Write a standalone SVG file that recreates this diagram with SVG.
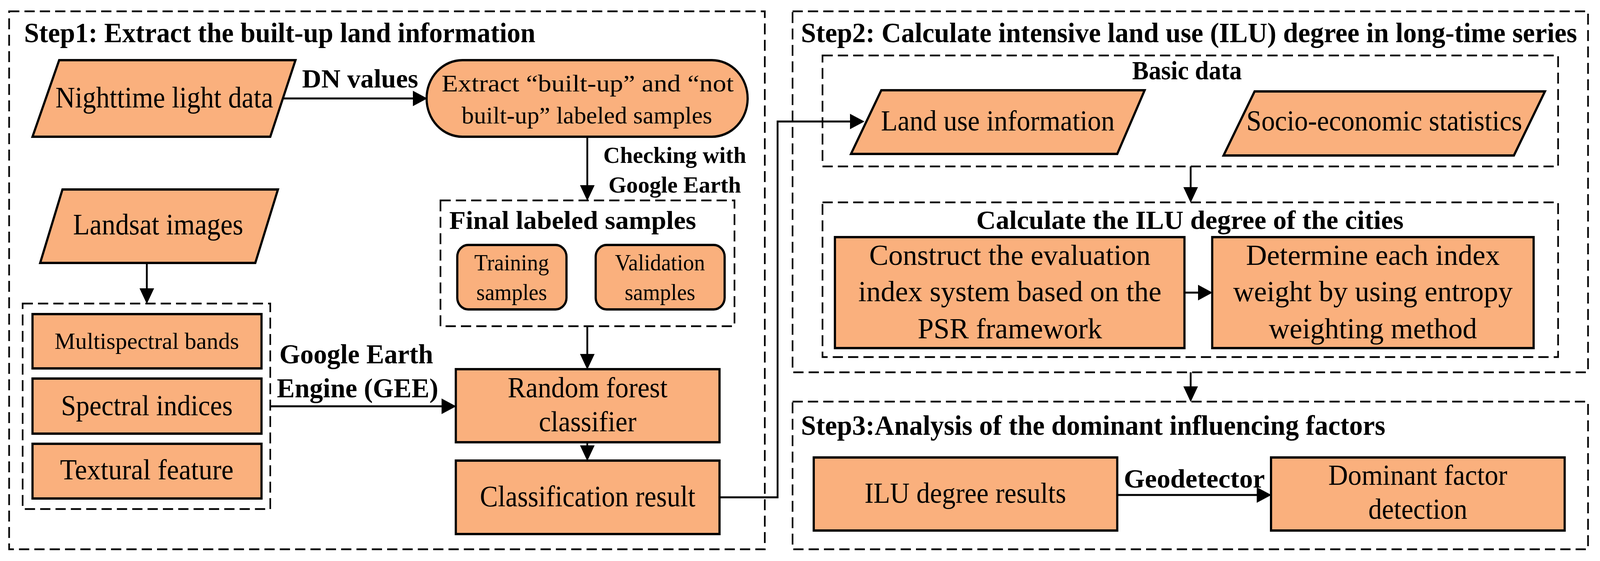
<svg xmlns="http://www.w3.org/2000/svg" width="4377" height="1436" viewBox="0 0 4377 1436">
<defs>
<marker id="ah" markerWidth="8" markerHeight="8" refX="7" refY="4" orient="auto" markerUnits="strokeWidth"><path d="M0,0 L8,4 L0,8 z" fill="#000"/></marker>
<style>
.n{fill:#FAB07D;stroke:#000;stroke-width:6}
.d{fill:none;stroke:#000;stroke-width:4.5;stroke-dasharray:28 14}
.c{fill:none;stroke:#000;stroke-width:5;marker-end:url(#ah)}
text{font-family:"Liberation Serif","Times New Roman",serif;fill:#000}
.b{font-weight:bold}
.m{text-anchor:middle}
</style>
</defs>
<rect width="4377" height="1436" fill="#fff"/>
<g transform="scale(0.935,1)">
<g id="step1">
<rect class="d" x="25" y="29" width="2069" height="1377"/>
<text class="b" x="66" y="108" font-size="72" textLength="1400" lengthAdjust="spacingAndGlyphs">Step1: Extract the built-up land information</text>
</g>
<g id="nighttime"><polygon class="n" points="162,154 809,154 740,350 89,350"/><text class="m" x="450" y="275" font-size="76" textLength="596" lengthAdjust="spacingAndGlyphs">Nighttime light data</text></g>
<g id="extract"><rect class="n" x="1168" y="154" width="879" height="196" rx="98"/>
<text x="1209" y="234" font-size="62" textLength="800" lengthAdjust="spacingAndGlyphs">Extract “built-up”  and  “not</text>
<text x="1264" y="316" font-size="62" textLength="686" lengthAdjust="spacingAndGlyphs">built-up”  labeled samples</text></g>
<g id="final"><rect class="d" x="1206" y="513" width="805" height="322"/>
<text class="b" x="1230" y="586" font-size="66" textLength="676" lengthAdjust="spacingAndGlyphs">Final labeled samples</text></g>
<g id="training"><rect class="n" x="1252" y="627" width="299" height="165" rx="30"/><text class="m" x="1401" y="692" font-size="60">Training</text><text class="m" x="1401" y="768" font-size="60">samples</text></g>
<g id="validation"><rect class="n" x="1631" y="627" width="353" height="165" rx="30"/><text class="m" x="1807" y="692" font-size="60">Validation</text><text class="m" x="1807" y="768" font-size="60">samples</text></g>
<g id="rf"><rect class="n" x="1248" y="945" width="722" height="187"/><text class="m" x="1609" y="1017" font-size="74">Random forest</text><text class="m" x="1609" y="1104" font-size="74">classifier</text></g>
<g id="classres"><rect class="n" x="1248" y="1179" width="722" height="188"/><text class="m" x="1609" y="1296" font-size="76" textLength="590" lengthAdjust="spacingAndGlyphs">Classification result</text></g>
<g id="landsat"><polygon class="n" points="171,485 761,485 699,673 110,673"/><text class="m" x="433" y="600" font-size="76" textLength="466" lengthAdjust="spacingAndGlyphs">Landsat images</text></g>
<g id="features"><rect class="d" x="62" y="777" width="678" height="526"/></g>
<g id="multi"><rect class="n" x="89" y="804" width="627" height="139"/><text class="m" x="402" y="893" font-size="60" textLength="505" lengthAdjust="spacingAndGlyphs">Multispectral bands</text></g>
<g id="spectral"><rect class="n" x="89" y="969" width="627" height="141"/><text class="m" x="402" y="1063" font-size="74" textLength="470" lengthAdjust="spacingAndGlyphs">Spectral indices</text></g>
<g id="textural"><rect class="n" x="89" y="1136" width="627" height="140"/><text class="m" x="402" y="1227" font-size="74" textLength="475" lengthAdjust="spacingAndGlyphs">Textural feature</text></g>
<g id="step2">
<rect class="d" x="2170" y="29" width="2178" height="924"/>
<text class="b" x="2193" y="108" font-size="72" textLength="2125" lengthAdjust="spacingAndGlyphs">Step2: Calculate intensive land use (ILU) degree in long-time series</text>
</g>
<g id="basic"><rect class="d" x="2252" y="142" width="2014" height="284"/><text class="b m" x="3250" y="203" font-size="68">Basic data</text></g>
<g id="landuse"><polygon class="n" points="2413,231 3134,231 3059,394 2330,394"/><text class="m" x="2732" y="334" font-size="74" textLength="640" lengthAdjust="spacingAndGlyphs">Land use information</text></g>
<g id="socio"><polygon class="n" points="3435,234 4230,234 4145,398 3350,398"/><text class="m" x="3790" y="334" font-size="74" textLength="755" lengthAdjust="spacingAndGlyphs">Socio-economic statistics</text></g>
<g id="calc"><rect class="d" x="2252" y="518" width="2014" height="396"/><text class="b m" x="3258" y="586" font-size="68" textLength="1170" lengthAdjust="spacingAndGlyphs">Calculate the ILU degree of the cities</text></g>
<g id="construct"><rect class="n" x="2286" y="607" width="957" height="284"/>
<text class="m" x="2765" y="678" font-size="74" textLength="770" lengthAdjust="spacingAndGlyphs">Construct the evaluation</text>
<text class="m" x="2765" y="771" font-size="74" textLength="830" lengthAdjust="spacingAndGlyphs">index system based on the</text>
<text class="m" x="2765" y="866" font-size="74" textLength="505" lengthAdjust="spacingAndGlyphs">PSR framework</text></g>
<g id="determine"><rect class="n" x="3319" y="607" width="880" height="284"/>
<text class="m" x="3759" y="678" font-size="74" textLength="695" lengthAdjust="spacingAndGlyphs">Determine each index</text>
<text class="m" x="3759" y="771" font-size="74" textLength="765" lengthAdjust="spacingAndGlyphs">weight by using entropy</text>
<text class="m" x="3759" y="866" font-size="74" textLength="570" lengthAdjust="spacingAndGlyphs">weighting method</text></g>
<g id="step3"><rect class="d" x="2170" y="1028" width="2178" height="378"/>
<text class="b" x="2193" y="1113" font-size="72" textLength="1600" lengthAdjust="spacingAndGlyphs">Step3:Analysis of the dominant influencing factors</text></g>
<g id="ilu"><rect class="n" x="2228" y="1171" width="831" height="187"/><text class="m" x="2643" y="1287" font-size="74" textLength="552" lengthAdjust="spacingAndGlyphs">ILU degree results</text></g>
<g id="dominant"><rect class="n" x="3480" y="1171" width="804" height="187"/><text class="m" x="3882" y="1241" font-size="74" textLength="490" lengthAdjust="spacingAndGlyphs">Dominant factor</text><text class="m" x="3882" y="1328" font-size="74">detection</text></g>
<g id="connectors">
<line class="c" x1="775" y1="252" x2="1165" y2="252"/>
<line class="c" x1="1608" y1="350" x2="1608" y2="509"/>
<line class="c" x1="1608" y1="835" x2="1608" y2="941"/>
<line class="c" x1="1608" y1="1132" x2="1608" y2="1175"/>
<line class="c" x1="402" y1="673" x2="402" y2="773"/>
<line class="c" x1="740" y1="1040" x2="1244" y2="1040"/>
<polyline class="c" points="1970,1273 2129,1273 2129,311 2362,311"/>
<line class="c" x1="3260" y1="426" x2="3260" y2="514"/>
<line class="c" x1="3243" y1="749" x2="3315" y2="749"/>
<line class="c" x1="3260" y1="953" x2="3260" y2="1024"/>
<line class="c" x1="3059" y1="1267" x2="3476" y2="1267"/>
<text class="b" x="827" y="224" font-size="68" textLength="318" lengthAdjust="spacingAndGlyphs">DN values</text>
<text class="b" x="1652" y="417" font-size="60" textLength="391" lengthAdjust="spacingAndGlyphs">Checking with</text>
<text class="b" x="1666" y="493" font-size="60" textLength="363" lengthAdjust="spacingAndGlyphs">Google Earth</text>
<text class="b" x="765" y="930" font-size="70" textLength="421" lengthAdjust="spacingAndGlyphs">Google Earth</text>
<text class="b" x="758" y="1017" font-size="70" textLength="442" lengthAdjust="spacingAndGlyphs">Engine (GEE)</text>
<text class="b" x="3077" y="1248" font-size="68" textLength="386" lengthAdjust="spacingAndGlyphs">Geodetector</text>
</g>
</g>
</svg>
